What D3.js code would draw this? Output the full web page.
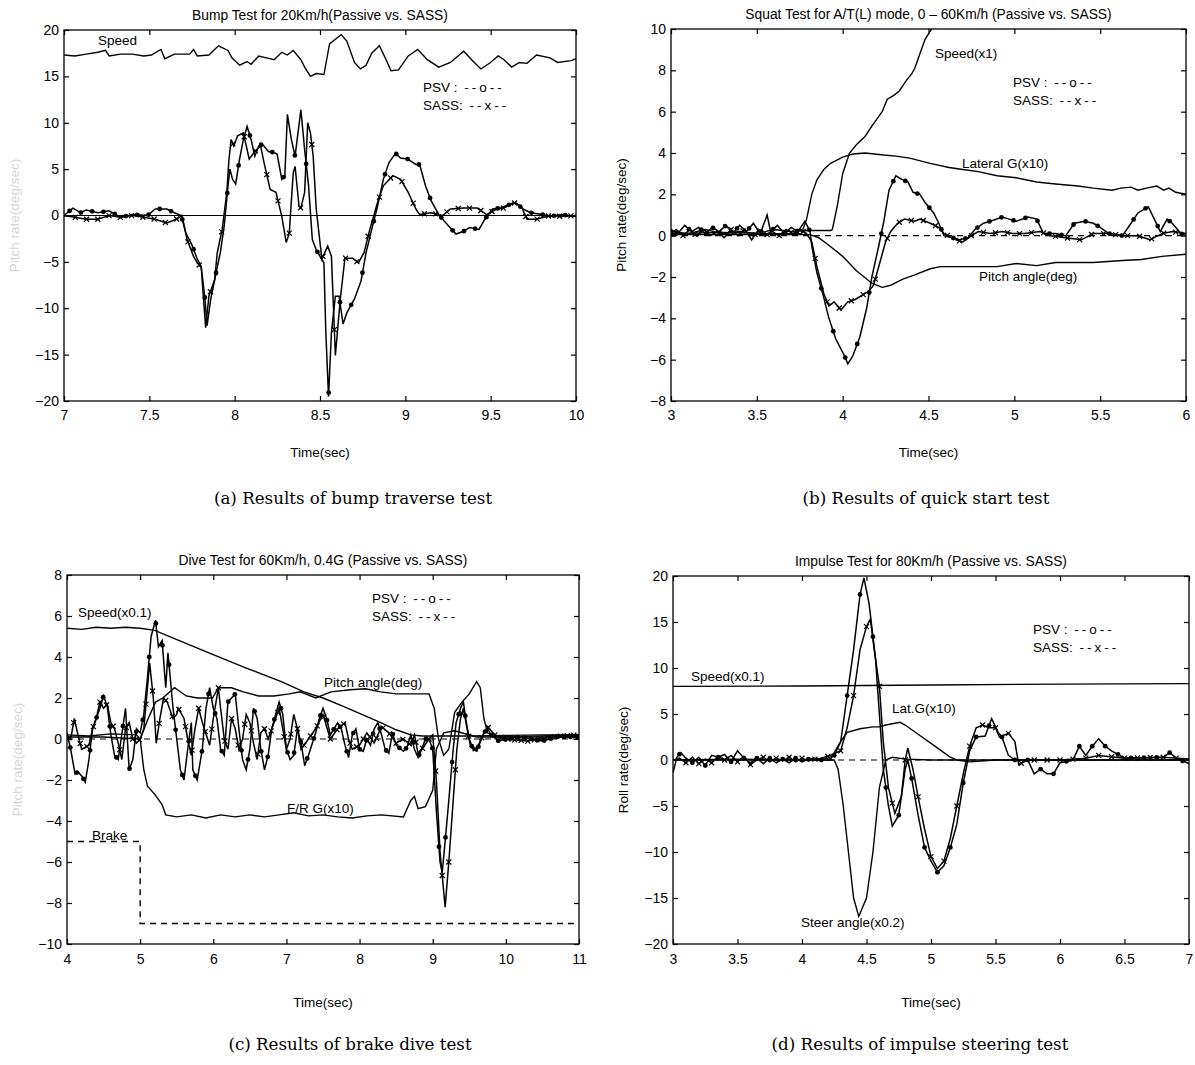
<!doctype html>
<html>
<head>
<meta charset="utf-8">
<title>Passive vs. SASS test results</title>
<style>
  body { margin: 0; background: #fff; }
  text { font-family: "Liberation Sans", Arial, sans-serif; fill: #000; }
  .title { font-size: 13.8px; }
  .note { font-size: 13.5px; }
  .caption { font-family: "DejaVu Serif", "Liberation Serif", serif; font-size: 16.7px; }
</style>
</head>
<body>
<script src="https://d3js.org/d3.v7.min.js"></script>
<script>
// ---------- (a) bump traverse ----------
var bumpSpeed = [[7.000,17.3],[7.063,17.2],[7.130,17.4],[7.198,17.6],[7.243,17.8],[7.265,17.2],[7.332,17.4],[7.400,17.4],[7.467,17.2],[7.512,17.3],[7.568,17.9],[7.591,16.9],[7.647,17.4],[7.737,17.4],[7.759,17.9],[7.781,17.2],[7.849,17.3],[7.905,18.3],[7.961,17.8],[7.984,17.0],[8.029,16.2],[8.073,16.6],[8.096,16.3],[8.141,17.2],[8.186,17.0],[8.231,16.8],[8.276,17.6],[8.309,17.3],[8.343,17.8],[8.388,16.8],[8.410,16.0],[8.444,15.0],[8.478,15.3],[8.523,15.2],[8.556,18.5],[8.590,19.0],[8.624,19.5],[8.657,18.8],[8.702,16.5],[8.736,15.8],[8.770,16.2],[8.803,17.5],[8.848,18.3],[8.882,17.0],[8.916,15.6],[8.960,15.7],[9.017,17.2],[9.073,17.9],[9.129,16.8],[9.196,16.0],[9.264,16.5],[9.342,17.7],[9.398,16.6],[9.443,15.8],[9.499,16.5],[9.544,17.2],[9.578,16.8],[9.623,16.0],[9.668,16.5],[9.713,16.4],[9.769,17.3],[9.848,17.0],[9.892,16.5],[9.971,16.7],[10.0,16.9]];
var bumpPSV = [[7.000,0],[7.052,0.8],[7.097,0.3],[7.130,0.6],[7.198,0.3],[7.265,0.5],[7.332,-0.2],[7.400,0.1],[7.490,0],[7.534,0.7],[7.602,0.7],[7.647,0.3],[7.687,0],[7.714,-1.9],[7.748,-3.1],[7.781,-4.7],[7.804,-5.5],[7.826,-9.0],[7.838,-11.9],[7.860,-9.0],[7.883,-6.9],[7.916,-4.0],[7.939,-1.1],[7.961,3.2],[7.972,5.0],[7.988,3.9],[8.006,3.4],[8.029,6.1],[8.051,8.2],[8.073,9.6],[8.096,8.2],[8.118,6.4],[8.141,7.5],[8.163,7.7],[8.197,6.9],[8.231,6.8],[8.249,6.6],[8.276,3.9],[8.294,4.3],[8.309,10.9],[8.332,8.2],[8.354,6.4],[8.388,11.4],[8.410,7.1],[8.433,3.2],[8.455,-2.6],[8.478,-3.7],[8.500,-4.4],[8.523,-5.1],[8.534,-12.5],[8.550,-19.5],[8.567,-12.6],[8.590,-8.7],[8.612,-8.7],[8.635,-11.7],[8.657,-10.5],[8.702,-9.0],[8.740,-7.1],[8.770,-4.0],[8.803,-1.5],[8.837,1.0],[8.871,3.9],[8.904,5.7],[8.943,6.7],[8.972,6.2],[9.012,6.1],[9.062,5.5],[9.084,5.5],[9.118,3.2],[9.151,1.6],[9.196,0.1],[9.219,-0.4],[9.252,-1.1],[9.297,-2.0],[9.342,-1.7],[9.376,-1.3],[9.432,-1.5],[9.466,-0.4],[9.511,0.7],[9.556,0.8],[9.600,1.1],[9.645,1.4],[9.690,0.7],[9.735,0.3],[9.803,0.1],[9.848,-0.1],[9.915,0.1],[10.0,-0.1]];
var bumpSASS = [[7.000,0],[7.063,-0.2],[7.130,-0.4],[7.198,-0.4],[7.265,0],[7.332,-0.2],[7.400,0],[7.467,-0.2],[7.534,-0.4],[7.602,-0.8],[7.658,-0.4],[7.692,0],[7.721,-2.6],[7.759,-4.4],[7.781,-5.1],[7.804,-5.6],[7.830,-12.1],[7.849,-8.7],[7.883,-6.9],[7.898,-4.0],[7.927,-1.5],[7.954,2.5],[7.966,5.9],[7.979,8.2],[7.995,7.5],[8.017,8.6],[8.051,8.9],[8.085,6.1],[8.118,6.9],[8.152,7.5],[8.172,5.7],[8.208,2.8],[8.242,2.5],[8.276,-0.1],[8.302,-2.9],[8.320,-1.9],[8.343,4.6],[8.354,5.3],[8.377,1.0],[8.388,0.8],[8.410,2.5],[8.428,10.0],[8.444,8.9],[8.460,6.4],[8.478,0.7],[8.511,-4.7],[8.545,-3.3],[8.567,-4.4],[8.590,-15.1],[8.619,-9.0],[8.646,-4.6],[8.669,-4.6],[8.691,-4.6],[8.725,-5.1],[8.758,-4.0],[8.792,-1.5],[8.837,1.4],[8.871,3.2],[8.927,4.3],[8.972,3.9],[9.017,2.5],[9.062,0.7],[9.084,0.1],[9.151,0.3],[9.219,0],[9.264,0.7],[9.342,0.8],[9.421,0.8],[9.477,0.1],[9.533,0.7],[9.578,0.8],[9.634,1.4],[9.679,1.0],[9.713,-0.4],[9.769,-0.4],[9.848,0],[9.915,-0.1],[10.0,0]];

// ---------- (b) quick start ----------
var squatSpeed = [[3.0,0.2],[3.1,0.1],[3.2,0.3],[3.3,0.1],[3.4,0.2],[3.5,0.1],[3.6,0.3],[3.7,0.2],[3.8,0.25],[3.93,0.25],[3.94,0.3],[3.97,1.5],[4.0,3.0],[4.04,4.0],[4.08,4.4],[4.13,4.8],[4.17,5.3],[4.23,6.0],[4.26,6.6],[4.30,6.8],[4.33,7.0],[4.37,7.5],[4.40,7.8],[4.42,8.1],[4.45,8.8],[4.48,9.5],[4.51,9.9],[4.55,10.4],[4.6,10.9]];
var squatLatG = [[3.0,0.1],[3.3,0.15],[3.6,0.1],[3.76,0.1],[3.79,0.8],[3.82,2.0],[3.85,2.7],[3.89,3.2],[3.93,3.5],[4.0,3.8],[4.06,3.95],[4.13,4.0],[4.24,3.9],[4.31,3.85],[4.39,3.75],[4.51,3.5],[4.62,3.3],[4.70,3.2],[4.79,3.1],[4.90,2.9],[5.01,2.8],[5.13,2.6],[5.24,2.5],[5.37,2.4],[5.46,2.3],[5.57,2.2],[5.62,2.3],[5.68,2.35],[5.72,2.2],[5.77,2.3],[5.83,2.4],[5.87,2.2],[5.90,2.3],[5.94,2.1],[6.0,2.0]];
var squatPitch = [[3.0,0.05],[3.5,0.05],[3.81,0.05],[3.86,-0.1],[3.91,-0.4],[4.0,-1.0],[4.08,-1.7],[4.17,-2.3],[4.23,-2.5],[4.28,-2.4],[4.35,-2.1],[4.42,-1.9],[4.51,-1.6],[4.57,-1.5],[4.70,-1.5],[4.90,-1.5],[5.01,-1.35],[5.13,-1.45],[5.24,-1.3],[5.46,-1.3],[5.63,-1.2],[5.74,-1.15],[5.86,-1.0],[6.0,-0.9]];
var squatPSV = [[3.0,0.3],[3.04,0.1],[3.08,0.5],[3.12,0.2],[3.16,0.4],[3.2,0.1],[3.24,0.4],[3.28,0.2],[3.32,0.5],[3.36,0.1],[3.40,0.5],[3.44,0.2],[3.48,0.6],[3.52,0.1],[3.56,1.0],[3.58,0.2],[3.62,0.5],[3.66,0.1],[3.70,0.4],[3.74,0.2],[3.78,0.7],[3.81,0.2],[3.82,-0.5],[3.85,-1.8],[3.89,-3.0],[3.92,-4.0],[3.96,-5.0],[4.01,-5.8],[4.03,-6.2],[4.06,-5.8],[4.10,-4.9],[4.14,-3.5],[4.17,-2.0],[4.21,-0.5],[4.24,0.7],[4.27,2.2],[4.31,2.9],[4.35,2.7],[4.38,2.6],[4.41,2.1],[4.45,2.0],[4.48,1.6],[4.53,1.1],[4.56,0.6],[4.59,0.0],[4.64,-0.1],[4.68,-0.2],[4.73,-0.1],[4.77,0.3],[4.82,0.6],[4.86,0.7],[4.93,0.9],[4.97,0.8],[5.01,0.7],[5.08,0.9],[5.13,0.8],[5.17,0.1],[5.24,0.1],[5.30,0.0],[5.35,0.6],[5.41,0.7],[5.46,0.6],[5.50,0.4],[5.55,0.1],[5.63,0.0],[5.68,0.6],[5.72,1.1],[5.78,1.4],[5.81,0.9],[5.85,0.2],[5.89,0.8],[5.92,0.6],[5.97,0.1],[6.0,0.0]];
var squatSASS = [[3.0,0.1],[3.03,0.3],[3.07,0.0],[3.11,0.3],[3.15,0.0],[3.19,0.3],[3.23,0.0],[3.27,0.2],[3.31,-0.1],[3.35,0.3],[3.39,0.0],[3.43,0.3],[3.47,-0.2],[3.51,0.3],[3.55,0.0],[3.59,0.2],[3.63,0.0],[3.67,0.3],[3.71,0.1],[3.75,0.3],[3.79,0.1],[3.82,-0.3],[3.85,-1.5],[3.89,-2.8],[3.92,-3.4],[3.95,-3.2],[3.99,-3.6],[4.03,-3.2],[4.07,-3.1],[4.11,-2.9],[4.15,-2.7],[4.18,-2.4],[4.22,-1.2],[4.25,-0.3],[4.28,0.2],[4.32,0.6],[4.36,0.8],[4.42,0.7],[4.45,0.8],[4.51,0.6],[4.56,0.4],[4.59,0.1],[4.66,-0.2],[4.70,-0.3],[4.75,0.0],[4.79,0.2],[4.86,0.1],[4.93,0.2],[4.99,0.1],[5.06,0.1],[5.15,0.2],[5.21,0.0],[5.30,-0.1],[5.39,-0.2],[5.46,0.1],[5.55,0.1],[5.63,0.0],[5.72,0.0],[5.79,-0.2],[5.86,0.1],[5.92,0.2],[6.0,0.1]];

// ---------- (c) brake dive ----------
var diveSpeed = [[4.0,5.4],[4.2,5.35],[4.4,5.45],[4.6,5.4],[4.8,5.45],[5.0,5.4],[5.2,5.3],[5.47,4.9],[5.94,4.2],[6.46,3.45],[6.93,2.8],[7.24,2.3],[7.5,2.0],[7.77,1.6],[8.03,1.2],[8.29,0.8],[8.5,0.45],[8.7,0.2],[8.86,0.15],[9.5,0.15],[10.5,0.2],[11.0,0.2]];
var divePitch = [[4.0,0.1],[4.5,0.1],[5.0,0.0],[5.11,1.0],[5.21,1.8],[5.31,2.0],[5.47,2.5],[5.63,2.1],[5.78,2.0],[5.99,2.0],[6.07,2.5],[6.25,2.5],[6.41,2.3],[6.62,2.1],[6.83,2.1],[7.04,2.2],[7.19,2.3],[7.40,2.0],[7.61,2.3],[7.87,2.4],[8.08,2.45],[8.29,2.3],[8.5,2.2],[8.7,2.2],[8.95,2.2],[9.02,1.5],[9.08,0.0],[9.15,-0.8],[9.22,-0.5],[9.3,1.3],[9.4,1.8],[9.5,2.2],[9.6,2.8],[9.65,2.5],[9.7,1.0],[9.75,0.3],[9.85,0.1],[10.0,0.1],[11.0,0.1]];
var diveFRG = [[4.0,0.2],[4.3,0.15],[4.6,0.25],[4.95,0.2],[5.0,0.0],[5.05,-1.5],[5.1,-2.3],[5.2,-2.7],[5.3,-3.2],[5.35,-3.7],[5.5,-3.8],[5.7,-3.7],[5.9,-3.85],[6.1,-3.7],[6.3,-3.8],[6.5,-3.7],[6.7,-3.8],[6.9,-3.7],[7.1,-3.6],[7.3,-3.75],[7.5,-3.7],[7.7,-3.8],[7.9,-3.85],[8.1,-3.75],[8.3,-3.7],[8.6,-3.8],[8.7,-3.0],[8.75,-2.8],[8.8,-3.4],[8.9,-3.3],[9.0,-2.5],[9.05,-0.5],[9.15,0.3],[9.3,0.4],[9.6,0.1],[10.0,0.1],[11.0,0.2]];
var diveBrake = [[4.0,-5],[5.0,-5],[5.0,-9],[11.0,-9]];
var divePSV = [[4.0,0.3],[4.05,-0.5],[4.11,-1.7],[4.15,-1.6],[4.2,-1.8],[4.25,-2.1],[4.3,-1.0],[4.35,0.5],[4.45,1.5],[4.5,2.1],[4.55,1.6],[4.6,0.2],[4.65,-0.8],[4.7,-1.0],[4.8,1.5],[4.85,-1.5],[4.9,-1.0],[4.95,0.5],[5.0,0.3],[5.05,1.2],[5.1,3.0],[5.15,5.0],[5.21,5.8],[5.25,4.5],[5.3,4.8],[5.35,2.5],[5.38,4.2],[5.45,1.5],[5.5,0.0],[5.55,-1.5],[5.6,-2.0],[5.65,-0.5],[5.7,0.8],[5.72,-1.5],[5.78,-2.0],[5.85,-0.5],[5.9,1.5],[5.95,2.5],[6.0,1.5],[6.05,1.0],[6.1,-0.5],[6.15,-0.8],[6.2,1.8],[6.3,2.2],[6.35,0.5],[6.4,-1.0],[6.45,-1.5],[6.5,-0.5],[6.55,1.5],[6.6,1.0],[6.65,-0.5],[6.7,-1.5],[6.75,-0.8],[6.8,0.5],[6.9,1.8],[6.95,1.2],[7.0,-0.5],[7.05,-1.0],[7.1,-0.8],[7.15,0.5],[7.2,-0.2],[7.25,-1.3],[7.3,-0.8],[7.4,0.3],[7.45,1.0],[7.5,1.5],[7.55,1.0],[7.6,0.2],[7.7,0.8],[7.75,0.5],[7.8,-0.3],[7.85,-0.9],[7.9,0.2],[7.95,0.5],[8.0,-0.5],[8.05,-0.6],[8.1,0.0],[8.15,-0.3],[8.2,0.5],[8.25,0.8],[8.3,0.2],[8.35,-0.5],[8.4,-0.7],[8.45,0.3],[8.5,-0.3],[8.6,-0.6],[8.65,-0.4],[8.7,0.2],[8.75,-0.5],[8.8,-0.9],[8.85,-0.5],[8.9,0.0],[8.95,0.0],[9.0,-0.5],[9.05,-3.5],[9.1,-6.0],[9.13,-6.5],[9.17,-5.0],[9.22,-3.0],[9.28,-0.5],[9.32,0.8],[9.38,1.5],[9.42,1.8],[9.45,1.0],[9.5,0.0],[9.55,-0.5],[9.6,-0.6],[9.7,0.3],[9.75,0.5],[9.8,0.2],[9.9,-0.1],[10.0,0.0],[10.2,0.1],[10.5,-0.1],[10.7,0.1],[11.0,0.1]];
var diveSASS = [[4.0,0.2],[4.05,0.0],[4.1,1.0],[4.15,0.2],[4.2,-0.5],[4.3,-0.3],[4.35,0.5],[4.4,1.0],[4.45,1.8],[4.5,1.5],[4.55,1.7],[4.6,0.8],[4.65,0.5],[4.7,-0.2],[4.75,-1.0],[4.8,0.5],[4.85,0.8],[4.9,0.0],[4.95,-0.2],[5.0,0.0],[5.05,0.5],[5.1,2.5],[5.13,3.7],[5.18,2.0],[5.22,-0.2],[5.27,1.0],[5.32,2.0],[5.37,1.8],[5.45,1.0],[5.5,1.2],[5.52,1.5],[5.6,1.0],[5.65,0.0],[5.7,-0.8],[5.75,0.5],[5.8,1.5],[5.85,0.8],[5.95,-0.3],[6.0,1.0],[6.07,2.5],[6.1,1.5],[6.15,0.0],[6.2,-0.5],[6.25,1.0],[6.3,0.5],[6.35,-0.5],[6.4,0.0],[6.45,1.2],[6.5,0.8],[6.55,-0.2],[6.6,-1.0],[6.65,0.3],[6.7,0.5],[6.75,0.0],[6.85,1.0],[6.9,1.5],[6.95,0.5],[7.0,-0.5],[7.05,0.0],[7.1,1.2],[7.15,0.5],[7.2,-0.5],[7.3,0.0],[7.4,0.5],[7.5,1.2],[7.55,0.6],[7.6,0.0],[7.7,0.5],[7.8,0.8],[7.85,0.0],[7.9,-0.5],[8.0,-0.3],[8.1,0.3],[8.2,-0.2],[8.3,0.6],[8.4,0.3],[8.5,-0.2],[8.6,0.0],[8.7,-0.3],[8.75,0.2],[8.8,-0.7],[8.85,-0.5],[8.95,0.0],[9.0,0.2],[9.05,-2.0],[9.1,-5.5],[9.17,-8.2],[9.22,-6.0],[9.28,-3.0],[9.33,-0.5],[9.38,1.0],[9.42,1.5],[9.47,0.5],[9.52,-0.4],[9.6,-0.5],[9.7,0.3],[9.75,0.6],[9.85,0.2],[10.0,0.0],[10.3,-0.1],[10.6,0.1],[11.0,0.2]];

// ---------- (d) impulse steering ----------
var impSpeed = [[3.0,8.0],[4.0,8.05],[5.0,8.15],[6.0,8.25],[7.0,8.3]];
var impLatG = [[3.0,0.0],[3.5,0.1],[4.0,0.0],[4.22,0.0],[4.25,0.8],[4.3,2.0],[4.35,3.0],[4.45,3.4],[4.55,3.6],[4.6,3.6],[4.65,3.8],[4.76,4.1],[4.8,3.8],[4.9,2.8],[5.0,1.8],[5.1,0.8],[5.15,0.3],[5.2,0.0],[5.3,-0.2],[5.5,0.0],[6.0,0.0],[7.0,0.0]];
var impSteer = [[3.0,0.0],[4.0,0.0],[4.25,0.0],[4.28,-1],[4.32,-5],[4.36,-10],[4.4,-15],[4.44,-17.0],[4.5,-15],[4.55,-10],[4.6,-3],[4.65,0.0],[4.7,0.3],[4.8,0.1],[5.0,0.0],[7.0,0.0]];
var impPSV = [[3.0,-1.4],[3.03,0.3],[3.06,0.8],[3.1,0.2],[3.15,-0.3],[3.2,0.3],[3.25,-0.6],[3.3,0.5],[3.35,0.3],[3.4,0.6],[3.45,-0.2],[3.5,1.0],[3.55,0.2],[3.6,-0.3],[3.65,0.2],[3.7,-0.4],[3.75,0.2],[3.8,-0.3],[3.85,0.1],[3.9,-0.3],[3.95,0.2],[4.0,-0.2],[4.05,0.1],[4.1,0.2],[4.15,0.0],[4.2,0.2],[4.25,0.5],[4.3,2.0],[4.35,7.0],[4.4,12],[4.45,18],[4.48,19.8],[4.52,17],[4.57,11],[4.6,5],[4.63,-1],[4.67,-5],[4.7,-7.2],[4.75,-6],[4.8,-1],[4.82,0.0],[4.85,-2],[4.9,-6],[4.95,-9.5],[5.0,-11],[5.05,-12.2],[5.1,-11.5],[5.15,-9.5],[5.2,-7],[5.25,-2.5],[5.3,1],[5.35,2.5],[5.42,2.6],[5.47,4.5],[5.52,3.0],[5.55,2.5],[5.6,0.5],[5.65,0.0],[5.75,0.0],[5.8,-1.5],[5.85,-1.0],[5.9,-1.5],[5.95,-1.5],[6.0,-0.3],[6.1,0.0],[6.15,1.5],[6.2,0.5],[6.25,1.5],[6.3,2.3],[6.35,1.5],[6.4,1.0],[6.5,0.2],[6.8,0.3],[6.85,0.8],[6.9,0.2],[7.0,-0.4]];
var impSASS = [[3.0,0.0],[3.05,0.2],[3.1,-0.3],[3.15,0.3],[3.2,-0.4],[3.25,0.1],[3.3,-0.3],[3.35,0.4],[3.4,0.0],[3.45,0.5],[3.5,-0.2],[3.55,0.4],[3.6,-0.5],[3.65,0.0],[3.7,0.3],[3.75,-0.2],[3.8,0.2],[3.85,-0.1],[3.9,0.3],[3.95,-0.2],[4.0,0.2],[4.05,-0.1],[4.1,0.1],[4.15,0.2],[4.2,0.4],[4.3,1.0],[4.35,3.5],[4.4,7.0],[4.45,12],[4.5,14.5],[4.53,15.3],[4.56,12],[4.6,8],[4.63,2],[4.67,-3],[4.72,-5.8],[4.77,-4],[4.8,0.0],[4.82,1.3],[4.86,-1],[4.9,-4],[4.95,-7.5],[5.0,-10.5],[5.05,-11.8],[5.1,-11.0],[5.15,-8.5],[5.2,-5],[5.25,-1.5],[5.3,1.5],[5.35,3.5],[5.4,3.8],[5.45,3.5],[5.5,3.5],[5.53,2.5],[5.6,2.9],[5.65,2.0],[5.68,-0.5],[5.75,0.0],[6.0,0.0],[6.2,0.2],[6.3,0.5],[6.5,0.2],[6.8,0.3],[7.0,0.1]];

var titles = ['Bump Test for 20Km/h(Passive vs. SASS)',
  'Squat Test for A/T(L) mode, 0 \u2013 60Km/h (Passive vs. SASS)',
  'Dive Test for 60Km/h, 0.4G (Passive vs. SASS)',
  'Impulse Test for 80Km/h (Passive vs. SASS)'];
var captions = ['(a)  Results of bump traverse test', '(b)  Results of quick start test',
  '(c)  Results of brake dive test', '(d)  Results of impulse steering test'];

var svg = d3.select('body').append('svg').attr('width', 1195).attr('height', 1065);

var panels = [
  { box: [64, 30, 576, 401], x: [7, 10], y: [-20, 20], xt: d3.range(7, 10.01, 0.5), yt: d3.range(-20, 20.1, 5),
    title: titles[0], caption: captions[0], ylabel: 'Pitch rate(deg/sec)', faint: true, zeroDash: false,
    capX: 353, capY: 504, xlabY: 457, tickPad: 9,
    psv: bumpPSV, sass: bumpSASS, step: 0.066,
    lines: [bumpSpeed],
    notes: [['Speed', 98, 45]], legend: [423, 92] },
  { box: [671, 29, 1186, 401], x: [3, 6], y: [-8, 10], xt: d3.range(3, 6.01, 0.5), yt: d3.range(-8, 10.1, 2),
    title: titles[1], caption: captions[1], ylabel: 'Pitch rate(deg/sec)', faint: false, zeroDash: true,
    capX: 926, capY: 504, xlabY: 457, tickPad: 9,
    psv: squatPSV, sass: squatSASS, step: 0.07,
    lines: [squatSpeed, squatLatG, squatPitch],
    notes: [['Speed(x1)', 935, 58], ['Lateral G(x10)', 962, 168], ['Pitch angle(deg)', 979, 281]], legend: [1013, 87] },
  { box: [67, 575, 579, 944], x: [4, 11], y: [-10, 8], xt: d3.range(4, 11.01, 1), yt: d3.range(-10, 8.1, 2),
    title: titles[2], caption: captions[2], ylabel: 'Pitch rate(deg/sec)', faint: true, zeroDash: true,
    capX: 350, capY: 1050, xlabY: 1007, tickPad: 10,
    psv: divePSV, sass: diveSASS, step: 0.09,
    lines: [diveSpeed, divePitch, diveFRG],
    dashed: [diveBrake],
    notes: [['Speed(x0.1)', 78, 617], ['Pitch angle(deg)', 324, 687], ['F/R G(x10)', 287, 813], ['Brake', 92, 840]], legend: [372, 603] },
  { box: [673, 576, 1189, 944], x: [3, 7], y: [-20, 20], xt: d3.range(3, 7.01, 0.5), yt: d3.range(-20, 20.1, 5),
    title: titles[3], caption: captions[3], ylabel: 'Roll rate(deg/sec)', faint: false, zeroDash: true,
    capX: 920, capY: 1050, xlabY: 1007, tickPad: 10,
    psv: impPSV, sass: impSASS, step: 0.1,
    lines: [impSpeed, impLatG, impSteer],
    notes: [['Speed(x0.1)', 691, 681], ['Lat.G(x10)', 892, 713], ['Steer angle(x0.2)', 801, 927]], legend: [1033, 634] }
];

function valueAt(series, t) {
  var i = d3.bisector(function(d) { return d[0]; }).left(series, t);
  if (i <= 0) return series[0][1];
  if (i >= series.length) return series[series.length - 1][1];
  var a = series[i - 1], b = series[i];
  return a[1] + (b[1] - a[1]) * (t - a[0]) / (b[0] - a[0]);
}

var fmt = d3.format('');

panels.forEach(function(p, k) {
  var L = p.box[0], T = p.box[1], R = p.box[2], B = p.box[3];
  var x = d3.scaleLinear().domain(p.x).range([L, R]);
  var y = d3.scaleLinear().domain(p.y).range([B, T]);
  var g = svg.append('g');

  g.append('clipPath').attr('id', 'clip' + k)
    .append('rect').attr('x', L).attr('y', T).attr('width', R - L).attr('height', B - T);

  // axes: MATLAB style, ticks inward on all four sides
  g.append('g').attr('transform', 'translate(0,' + B + ')')
    .call(d3.axisBottom(x).tickValues(p.xt).tickSizeInner(-5).tickSizeOuter(0).tickPadding(p.tickPad).tickFormat(fmt));
  g.append('g').attr('transform', 'translate(0,' + T + ')')
    .call(d3.axisTop(x).tickValues(p.xt).tickSizeInner(-5).tickSizeOuter(0).tickFormat(''));
  g.append('g').attr('transform', 'translate(' + L + ',0)')
    .call(d3.axisLeft(y).tickValues(p.yt).tickSizeInner(-5).tickSizeOuter(0).tickPadding(5).tickFormat(fmt));
  g.append('g').attr('transform', 'translate(' + R + ',0)')
    .call(d3.axisRight(y).tickValues(p.yt).tickSizeInner(-5).tickSizeOuter(0).tickFormat(''));
  g.selectAll('.domain').remove();
  g.selectAll('.tick line').attr('stroke', '#000').attr('stroke-width', 1.2);
  g.selectAll('.tick text')
    .style('font-family', '"Liberation Sans", Arial, sans-serif').style('font-size', '14px').attr('fill', '#000');
  g.append('rect').attr('x', L).attr('y', T).attr('width', R - L).attr('height', B - T)
    .attr('fill', 'none').attr('stroke', '#000').attr('stroke-width', 1.3);

  var cx = (L + R) / 2;
  g.append('text').attr('class', 'title').attr('x', cx).attr('y', T - 10).attr('text-anchor', 'middle').text(p.title);
  g.append('text').attr('class', 'note').attr('x', cx).attr('y', p.xlabY).attr('text-anchor', 'middle').text('Time(sec)');
  g.append('text').attr('class', 'note')
    .attr('transform', 'translate(' + (L - 45) + ',' + ((T + B) / 2) + ') rotate(-90)')
    .attr('text-anchor', 'middle')
    .style('fill', p.faint ? '#c4c4c4' : '#000')
    .style('opacity', p.faint ? 0.7 : 1)
    .text(p.ylabel);
  g.append('text').attr('class', 'caption').attr('x', p.capX).attr('y', p.capY).attr('text-anchor', 'middle').text(p.caption);

  var plot = g.append('g').attr('clip-path', 'url(#clip' + k + ')');
  var line = d3.line().x(function(d) { return x(d[0]); }).y(function(d) { return y(d[1]); });

  plot.append('line').attr('x1', L).attr('x2', R).attr('y1', y(0)).attr('y2', y(0))
    .attr('stroke', '#000').attr('stroke-width', 1.1)
    .attr('stroke-dasharray', p.zeroDash ? '6,5' : null);

  p.lines.forEach(function(s) {
    plot.append('path').attr('d', line(s)).attr('fill', 'none').attr('stroke', '#000').attr('stroke-width', 1.4);
  });
  (p.dashed || []).forEach(function(s) {
    plot.append('path').attr('d', line(s)).attr('fill', 'none').attr('stroke', '#000')
      .attr('stroke-width', 1.4).attr('stroke-dasharray', '6,5');
  });
  [p.psv, p.sass].forEach(function(s) {
    plot.append('path').attr('d', line(s)).attr('fill', 'none').attr('stroke', '#000').attr('stroke-width', 1.5);
  });

  // markers along each measured series
  var tPSV = d3.range(p.x[0] + p.step * 0.5, p.x[1], p.step);
  var tSASS = d3.range(p.x[0] + p.step, p.x[1], p.step);
  plot.selectAll('.mo').data(tPSV).enter().append('circle')
    .attr('cx', function(t) { return x(t); })
    .attr('cy', function(t) { return y(valueAt(p.psv, t)); })
    .attr('r', 2.4).attr('fill', '#000');
  plot.selectAll('.mx').data(tSASS).enter().append('path')
    .attr('transform', function(t) { return 'translate(' + x(t) + ',' + y(valueAt(p.sass, t)) + ')'; })
    .attr('d', 'M-2.5,-2.5L2.5,2.5M-2.5,2.5L2.5,-2.5')
    .attr('stroke', '#000').attr('stroke-width', 1.2);

  p.notes.forEach(function(n) {
    g.append('text').attr('class', 'note').attr('x', n[1]).attr('y', n[2]).text(n[0]);
  });
  [['PSV : ', 'o'], ['SASS: ', 'x']].forEach(function(e, j) {
    var t = g.append('text').attr('class', 'note').attr('x', p.legend[0]).attr('y', p.legend[1] + j * 18);
    t.append('tspan').text(e[0]);
    t.append('tspan').attr('dx', 3).style('letter-spacing', '3px').text('--' + e[1] + '--');
  });
});
</script>
</body>
</html>
